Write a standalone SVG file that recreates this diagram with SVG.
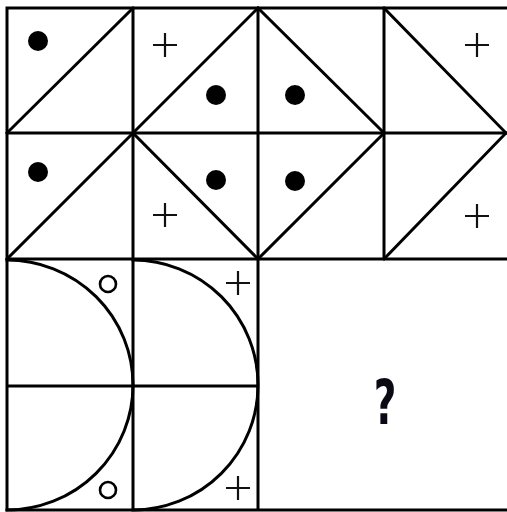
<svg xmlns="http://www.w3.org/2000/svg" width="507" height="512" viewBox="0 0 507 512">
<style>
.ln{stroke:#000;stroke-width:3;fill:none;stroke-linecap:square}
.pl{stroke:#111;stroke-width:2.2;fill:none}
.dot{fill:#000}
.ring{stroke:#000;stroke-width:2.6;fill:none}
.q{font-family:"DejaVu Sans Condensed","DejaVu Sans",sans-serif;font-weight:bold;font-size:62px;fill:#0a0a14}
</style>
<defs>
<path id="plus" d="M-12,0H12M0,-12V12" class="pl"/>
</defs>
<rect width="507" height="512" fill="#fff"/>
<g id="grid">
<path class="ln" d="M7,8H506M7,133H506M7,259H506M7,510H506M7,386H258M7,8V510M133,8V510M258,8V510M384,8V259"/>
</g>
<g id="cell-r1c1">
<path class="ln" d="M7,133L133,8"/>
<circle class="dot" cx="38" cy="41" r="10"/>
</g>
<g id="cell-r1c2">
<path class="ln" d="M133,133L258,8"/>
<use href="#plus" x="165" y="45"/>
<circle class="dot" cx="216" cy="95" r="10"/>
</g>
<g id="cell-r1c3">
<path class="ln" d="M258,8L384,133"/>
<circle class="dot" cx="295" cy="95" r="10"/>
</g>
<g id="cell-r1c4">
<path class="ln" d="M384,8L506,133"/>
<use href="#plus" x="477" y="45"/>
</g>
<g id="cell-r2c1">
<path class="ln" d="M7,259L133,133"/>
<circle class="dot" cx="38" cy="172" r="10"/>
</g>
<g id="cell-r2c2">
<path class="ln" d="M133,133L258,259"/>
<circle class="dot" cx="216" cy="180" r="10"/>
<use href="#plus" x="165" y="215"/>
</g>
<g id="cell-r2c3">
<path class="ln" d="M258,259L384,133"/>
<circle class="dot" cx="295" cy="181" r="10"/>
</g>
<g id="cell-r2c4">
<path class="ln" d="M384,259L506,133"/>
<use href="#plus" x="477" y="216"/>
</g>
<g id="block-bl-left">
<path class="ln" d="M7,260A126,125 0 0 1 7,510"/>
<circle class="ring" cx="108" cy="284" r="8"/>
<circle class="ring" cx="108" cy="490" r="8"/>
</g>
<g id="block-bl-right">
<path class="ln" d="M133,260A125,125 0 0 1 133,510"/>
<use href="#plus" x="238" y="283"/>
<use href="#plus" x="238" y="488"/>
</g>
<g id="question">
<text class="q" transform="translate(385,424) scale(0.7,1)" text-anchor="middle">?</text>
</g>
</svg>
